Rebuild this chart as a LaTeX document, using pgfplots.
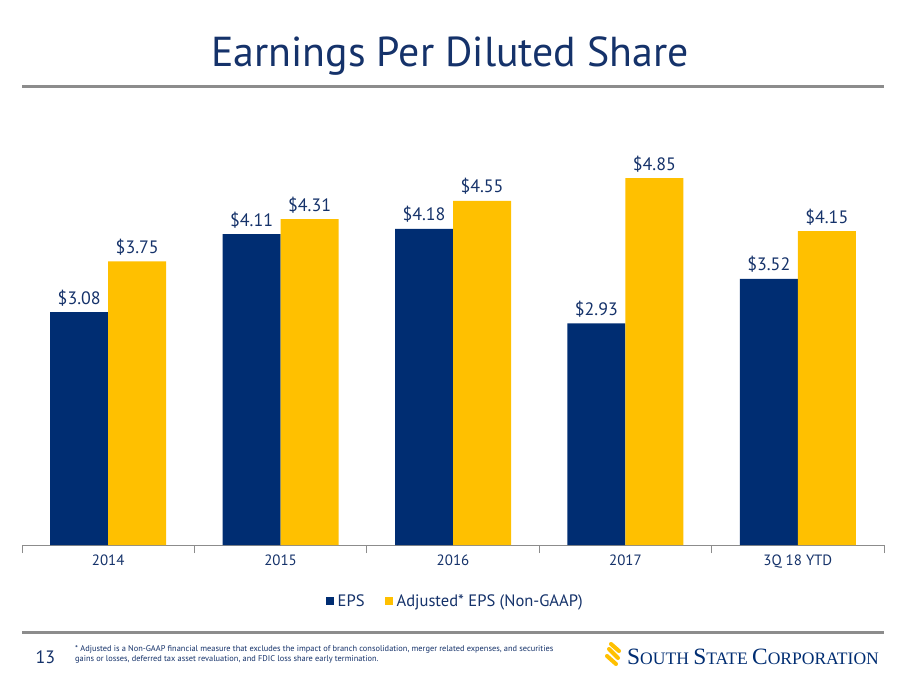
\documentclass[border=0pt]{standalone}
\usepackage{pgfplots}
\pgfplotsset{compat=1.18}
\usepackage{fontspec}
\setmainfont{PT Sans}
\newfontfamily\logofont{Liberation Serif}
\definecolor{navy}{HTML}{002D72}
\definecolor{gold}{HTML}{FFC000}
\definecolor{txtnavy}{HTML}{15326A}
\definecolor{rule}{HTML}{8C8C8C}
\begin{document}
\begin{tikzpicture}[x=1bp,y=1bp]
\useasboundingbox (0,0) rectangle (900,-695);
\fill[white] (0,0) rectangle (900,-695);
% title
\node[anchor=base, text=txtnavy, font=\fontsize{42}{42}\selectfont] at (450,-67) {Earnings Per Diluted Share};
\draw[rule, line width=3bp] (22,-87) -- (884,-87);
% axis
\begin{axis}[
  at={(22bp,-545bp)}, anchor=south west,
  scale only axis, width=862bp, height=416bp,
  ymin=0, ymax=5.5, xmin=-0.5, xmax=4.5,
  ybar=0pt, bar width=58bp,
  axis x line=bottom, axis y line=none,
  x axis line style={rule, line width=1bp, -},
  /pgf/number format/assume math mode=true,
  xtick={0,1,2,3,4},
  xticklabels={2014,2015,2016,2017,3Q 18 YTD},
  major tick length=0pt,
  xticklabel style={font=\fontsize{15}{15}\selectfont, text=txtnavy, yshift=-6bp},
  extra x ticks={-0.5,0.5,1.5,2.5,3.5,4.5},
  extra x tick labels={},
  extra x tick style={major tick length=8bp, tick align=outside, tick style={rule, line width=0.8bp}},
  nodes near coords={\$\pgfmathprintnumber[fixed,fixed zerofill,precision=2]{\pgfplotspointmeta}},
  nodes near coords style={font=\fontsize{18}{18}\selectfont, text=txtnavy, anchor=base, inner sep=0pt, yshift=8bp},
  legend style={at={(0.502,-0.135)}, anchor=center, draw=none, fill=none, legend columns=2,
    font=\fontsize{16.6}{16.6}\selectfont, text=txtnavy,
    nodes={inner xsep=1bp},
    /tikz/every odd column/.append style={column sep=3bp},
    /tikz/every even column/.append style={column sep=19bp}},
  legend image code/.code={\fill[#1] (0bp,-4bp) rectangle (8bp,4bp);},
]
\addplot[fill=navy, draw=none] coordinates {(0,3.08) (1,4.11) (2,4.18) (3,2.93) (4,3.52)};
\addplot[fill=gold, draw=none] coordinates {(0,3.75) (1,4.31) (2,4.55) (3,4.85) (4,4.15)};
\legend{EPS, Adjusted* EPS (Non-GAAP)}
\end{axis}
% footer
\draw[rule, line width=3bp] (22,-632) -- (884,-632);
\node[anchor=base west, text=txtnavy, font=\fontsize{18}{18}\selectfont] at (32,-663) {13};
\node[anchor=north west, text=txtnavy, font=\fontsize{8.4}{10}\selectfont, align=left, inner sep=0pt] at (75,-645)
 {* Adjusted is a Non-GAAP financial measure that excludes the impact of branch consolidation, merger related expenses, and securities\\
 gains or losses, deferred tax asset revaluation, and FDIC loss share early termination.};
% logo mark
\begin{scope}[gold, line width=4bp, line cap=round]
\draw (611,-644) -- (619,-651);
\draw (609,-649) -- (618,-658);
\draw (607,-656) -- (616,-664);
\end{scope}
\node[anchor=base west, text=navy, inner sep=0pt] at (627,-664)
 {\logofont{\fontsize{23.5}{23.5}\selectfont S}{\fontsize{17.6}{17}\selectfont OUTH }{\fontsize{23.5}{23.5}\selectfont S}{\fontsize{17.6}{17}\selectfont TATE }{\fontsize{23.5}{23.5}\selectfont C}{\fontsize{17.6}{17}\selectfont ORPORATION}};
\end{tikzpicture}
\end{document}
